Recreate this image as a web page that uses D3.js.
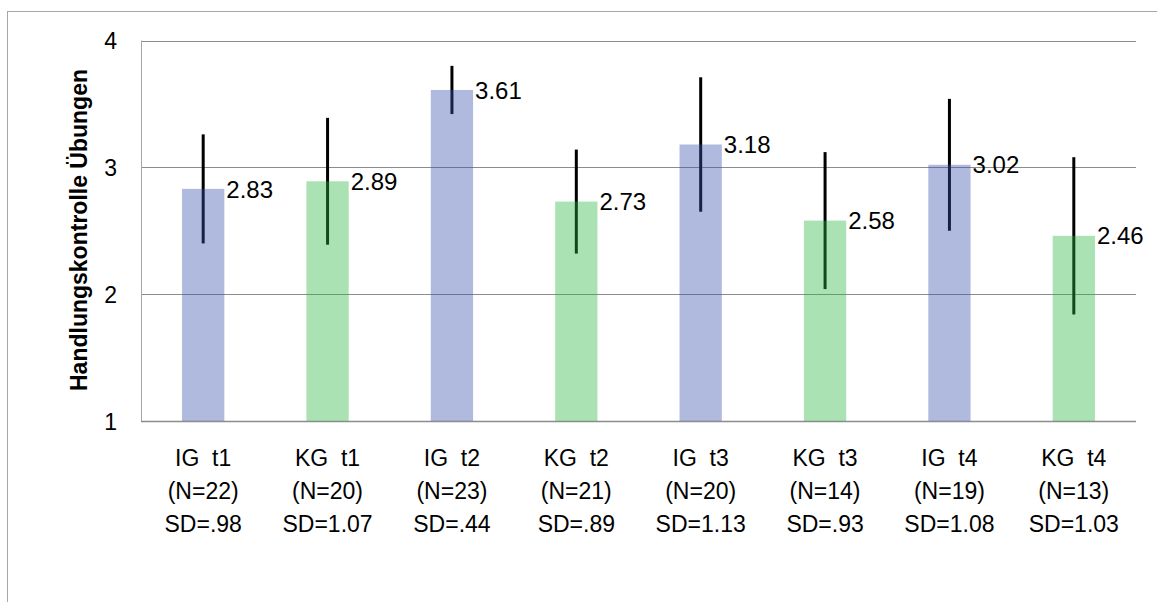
<!DOCTYPE html>
<html>
<head>
<meta charset="utf-8">
<script src="https://cdn.jsdelivr.net/npm/d3@7"></script>
<style>
  html, body { margin: 0; padding: 0; background: #fff; }
  svg { display: block; }
  text { font-family: "Liberation Sans", Arial, sans-serif; fill: #000; }
</style>
</head>
<body>
<svg id="chart" width="1157" height="602"></svg>
<script>
// Group / time point labels (first line of each category label)
const groups = ["IG  t1", "KG  t1", "IG  t2", "KG  t2", "IG  t3", "KG  t3", "IG  t4", "KG  t4"];
const sampleSizes = ["(N=22)", "(N=20)", "(N=23)", "(N=21)", "(N=20)", "(N=14)", "(N=19)", "(N=13)"];
const sdLabels = ["SD=.98", "SD=1.07", "SD=.44", "SD=.89", "SD=1.13", "SD=.93", "SD=1.08", "SD=1.03"];
// Mean scores
const means = [2.83, 2.89, 3.61, 2.73, 3.18, 2.58, 3.02, 2.46];
// Half-length of each error bar (confidence interval), in scale units
const errors = [0.43, 0.50, 0.19, 0.41, 0.53, 0.54, 0.52, 0.62];
// Group type per bar: IG = intervention, KG = control
const groupType = ["IG", "KG", "IG", "KG", "IG", "KG", "IG", "KG"];
const yTicks = [1, 2, 3, 4];
const yTitle = "Handlungskontrolle Übungen";

const colors = { IG: "rgb(57,82,172)", KG: "rgb(42,182,67)" };

const svg = d3.select("#chart");

// Outer chart frame
svg.append("rect")
  .attr("x", 7.5).attr("y", 11.5)
  .attr("width", 1170).attr("height", 620)
  .attr("fill", "none").attr("stroke", "#a6a6a6").attr("stroke-width", 1);

const plot = { left: 141, right: 1136, top: 40.5, bottom: 421 };

const x = d3.scaleBand()
  .domain(d3.range(groups.length))
  .range([plot.left, plot.right])
  .paddingInner(0.66)
  .paddingOuter(0.33);

const y = d3.scaleLinear()
  .domain([1, 4])
  .range([plot.bottom, plot.top]);

// Horizontal gridlines
svg.append("g")
  .selectAll("line")
  .data(yTicks.filter(t => t > 1))
  .join("line")
  .attr("x1", plot.left).attr("x2", plot.right)
  .attr("y1", d => Math.round(y(d)) + 0.5).attr("y2", d => Math.round(y(d)) + 0.5)
  .attr("stroke", "#8c8c8c").attr("stroke-width", 1);

// Left axis line
svg.append("line")
  .attr("x1", plot.left + 0.5).attr("x2", plot.left + 0.5)
  .attr("y1", plot.top).attr("y2", plot.bottom)
  .attr("stroke", "#a6a6a6").attr("stroke-width", 1);

// Bottom axis line
svg.append("line")
  .attr("x1", plot.left).attr("x2", plot.right)
  .attr("y1", Math.round(y(1)) + 0.5).attr("y2", Math.round(y(1)) + 0.5)
  .attr("stroke", "#8c8c8c").attr("stroke-width", 1.5);

// Y tick labels
const yAxis = d3.axisLeft(y).tickValues(yTicks).tickSize(0).tickPadding(24).tickFormat(d3.format("d"));
const yg = svg.append("g").attr("transform", `translate(${plot.left},0)`).call(yAxis);
yg.select(".domain").remove();
yg.selectAll("text")
  .style("font-family", "'Liberation Sans', Arial, sans-serif")
  .attr("font-size", 23).attr("fill", "#000").attr("dy", "0.36em");

// Y axis title
svg.append("text")
  .attr("transform", "translate(87,230) rotate(-90)")
  .attr("text-anchor", "middle")
  .attr("font-size", 23).attr("font-weight", "bold")
  .text(yTitle);

const cx = i => x(i) + x.bandwidth() / 2;

// Error bars (drawn beneath the translucent bars)
svg.append("g")
  .selectAll("line")
  .data(means)
  .join("line")
  .attr("x1", (d, i) => cx(i)).attr("x2", (d, i) => cx(i))
  .attr("y1", (d, i) => y(d + errors[i]))
  .attr("y2", (d, i) => y(d - errors[i]))
  .attr("stroke", "#000").attr("stroke-width", 3);

// Bars
svg.append("g")
  .selectAll("rect")
  .data(means)
  .join("rect")
  .attr("x", (d, i) => x(i))
  .attr("width", x.bandwidth())
  .attr("y", d => y(d))
  .attr("height", d => y(1) - y(d))
  .attr("fill", (d, i) => colors[groupType[i]])
  .attr("fill-opacity", 0.4);

// Value labels
svg.append("g")
  .selectAll("text")
  .data(means)
  .join("text")
  .attr("x", (d, i) => x(i) + x.bandwidth() + 2)
  .attr("y", d => y(d))
  .attr("dy", "0.36em")
  .attr("font-size", 24)
  .text(d => d3.format(".2f")(d));

// Category labels (three lines each)
const cat = svg.append("g")
  .selectAll("text")
  .data(groups)
  .join("text")
  .attr("text-anchor", "middle")
  .attr("font-size", 23)
  .style("white-space", "pre");
const lines = [groups, sampleSizes, sdLabels];
lines.forEach((arr, k) => {
  cat.append("tspan")
    .attr("x", (d, i) => cx(i))
    .attr("y", 466 + k * 33)
    .text((d, i) => arr[i]);
});
</script>
</body>
</html>
